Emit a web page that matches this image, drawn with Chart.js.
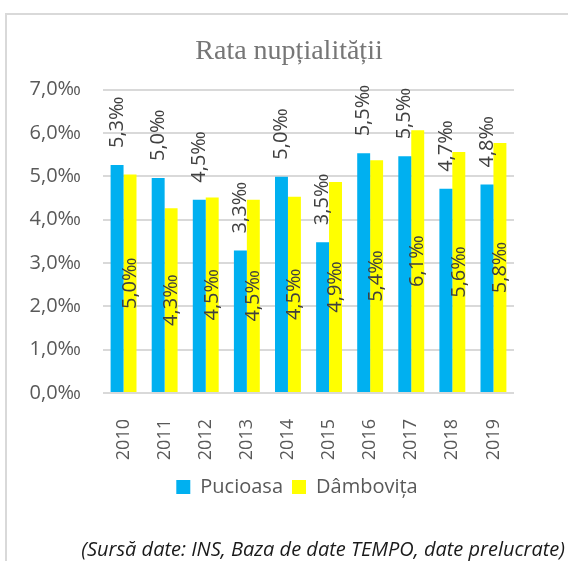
<!DOCTYPE html>
<html>
<head>
<meta charset="utf-8">
<script src="https://cdn.jsdelivr.net/npm/chart.js@4.4.1/dist/chart.umd.min.js"></script>
<style>
  html, body { margin: 0; padding: 0; background: #ffffff; }
  #wrap { position: relative; width: 568px; height: 561px; overflow: hidden; }
  #frame { position: absolute; left: 5px; top: 13px; width: 800px; height: 800px; border: 2px solid #d9d9d9; box-sizing: border-box; }
  #c { position: absolute; left: 0; top: 0; }
  #src { position: absolute; left: 0; width: 565px; top: 535px; text-align: right; font-family: "Open Sans", "Liberation Sans", sans-serif; font-style: italic; font-size: 20px; color: #1a1a1a; white-space: nowrap; }
</style>
</head>
<body>
<div id="wrap">
  <div id="frame"></div>
  <canvas id="c" width="568" height="561"></canvas>
  <div id="src">(Sursă date: INS, Baza de date TEMPO, date prelucrate)</div>
</div>
<script>
const categories = ['2010','2011','2012','2013','2014','2015','2016','2017','2018','2019'];
const pucioasa  = [5.26, 4.96, 4.46, 3.29, 4.99, 3.48, 5.53, 5.46, 4.71, 4.81];
const dambovita = [5.04, 4.26, 4.51, 4.46, 4.53, 4.87, 5.37, 6.06, 5.56, 5.77];
const yTickLabels = ['0,0‰','1,0‰','2,0‰','3,0‰','4,0‰','5,0‰','6,0‰','7,0‰'];
const seriesNames = ['Pucioasa', 'Dâmbovița'];
const chartTitle = 'Rata nupțialității';

const fmt = v => v.toFixed(1).replace('.', ',') + '‰';
const baseFont = '"Open Sans", "Liberation Sans", sans-serif';

const labelPlugin = {
  id: 'barLabels',
  afterDatasetsDraw(chart) {
    const ctx = chart.ctx;
    ctx.save();
    ctx.fillStyle = '#404040';
    ctx.font = '20px ' + baseFont;
    ctx.textBaseline = 'middle';
    chart.data.datasets.forEach((ds, di) => {
      const meta = chart.getDatasetMeta(di);
      meta.data.forEach((el, i) => {
        const txt = fmt(ds.data[i]);
        ctx.save();
        if (di === 0) {
          ctx.translate(el.x, el.y - 17);
          ctx.rotate(-Math.PI / 2);
          ctx.textAlign = 'left';
        } else {
          ctx.translate(el.x, (el.y + el.base) / 2);
          ctx.rotate(-Math.PI / 2);
          ctx.textAlign = 'center';
        }
        ctx.fillText(txt, 0, 0);
        ctx.restore();
      });
    });
    ctx.restore();
  }
};

const boxShift = {
  id: 'boxShift',
  afterLayout(chart) {
    chart.titleBlock.left += 22;
    chart.titleBlock.right += 22;
    chart.legend.left += 30;
    chart.legend.right += 30;
  }
};

new Chart(document.getElementById('c'), {
  type: 'bar',
  data: {
    labels: categories,
    datasets: [
      { label: seriesNames[0], data: pucioasa, backgroundColor: '#00B0F0' },
      { label: seriesNames[1], data: dambovita, backgroundColor: '#FFFF00' }
    ]
  },
  options: {
    responsive: false,
    animation: false,
    events: [],
    layout: { padding: { left: 20, right: 54, top: 35, bottom: 54 } },
    datasets: { bar: { categoryPercentage: 0.63, barPercentage: 1.0 } },
    scales: {
      x: {
        grid: { display: false },
        border: { display: false },
        ticks: {
          autoSkip: false, minRotation: 90, maxRotation: 90, padding: 18,
          color: '#595959', font: { family: baseFont, size: 18 }
        },
        afterFit(s) { s.height = 75; }
      },
      y: {
        min: 0, max: 7,
        grid: { color: '#d9d9d9', lineWidth: 2, drawTicks: false },
        border: { display: false },
        ticks: {
          stepSize: 1, padding: 22, color: '#595959',
          font: { family: baseFont, size: 20 },
          callback: v => yTickLabels[v]
        },
        afterFit(s) { s.width = 83; }
      }
    },
    plugins: {
      title: {
        display: true, text: chartTitle, color: '#767676',
        font: { family: '"Liberation Serif", serif', size: 28, weight: 'normal' },
        padding: { top: 0, bottom: 21 }
      },
      legend: {
        position: 'bottom',
        labels: {
          boxWidth: 14, boxHeight: 14, padding: 9, color: '#595959',
          font: { family: baseFont, size: 20 }
        }
      },
      tooltip: { enabled: false }
    }
  },
  plugins: [labelPlugin, boxShift]
});
</script>
</body>
</html>
